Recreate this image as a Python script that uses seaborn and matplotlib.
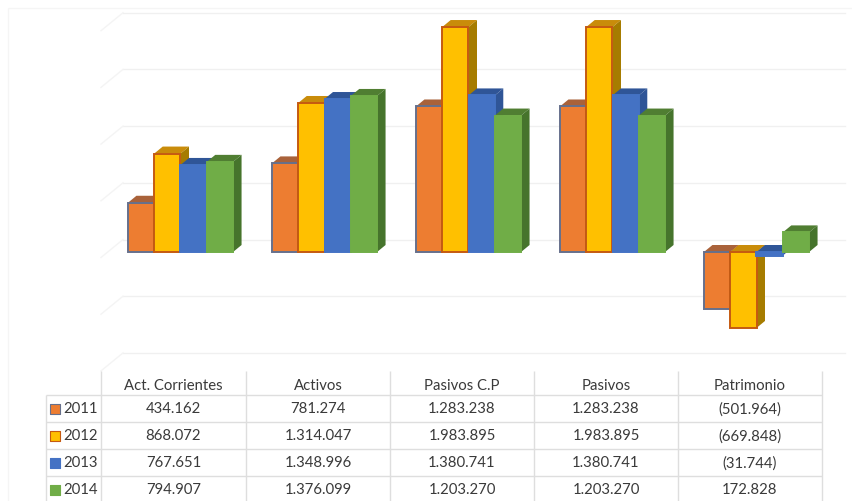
import matplotlib
matplotlib.use("Agg")
import matplotlib.pyplot as plt
from matplotlib.patches import Polygon
import pandas as pd
import seaborn as sns

categories = ["Act. Corrientes", "Activos", "Pasivos C.P", "Pasivos", "Patrimonio"]
years = ["2011", "2012", "2013", "2014"]
v2011 = [434162, 781274, 1283238, 1283238, -501964]
v2012 = [868072, 1314047, 1983895, 1983895, -669848]
v2013 = [767651, 1348996, 1380741, 1380741, -31744]
v2014 = [794907, 1376099, 1203270, 1203270, 172828]
labels2011 = ["434.162", "781.274", "1.283.238", "1.283.238", "(501.964)"]
labels2012 = ["868.072", "1.314.047", "1.983.895", "1.983.895", "(669.848)"]
labels2013 = ["767.651", "1.348.996", "1.380.741", "1.380.741", "(31.744)"]
labels2014 = ["794.907", "1.376.099", "1.203.270", "1.203.270", "172.828"]
grid_values = [-1000000, -500000, 0, 500000, 1000000, 1500000, 2000000]

front = ["#ED7D31", "#FFC000", "#4472C4", "#70AD47"]
top = ["#A9623A", "#C98C0A", "#2F5597", "#507E32"]
side = ["#B3581F", "#A67C00", "#2F5597", "#46742C"]
edges = ["#66708C", "#C55A11", "#4472C4", "#70AD47"]

W, H = 853, 502
plt.rcParams["font.family"] = ["Lato", "DejaVu Sans"]
fig = plt.figure(figsize=(W / 100, H / 100), dpi=100, facecolor="white")

# chart axes: px 101..853 wide, px 0..372 tall
ax = fig.add_axes([101 / W, 1 - 372 / H, 752 / W, 372 / H])
df = pd.DataFrame({
    "cat": categories * 4,
    "year": [y for y in years for _ in categories],
    "value": v2011 + v2012 + v2013 + v2014,
})
sns.barplot(data=df, x="cat", y="value", hue="year", palette=front, width=0.73,
            gap=0, saturation=1, legend=False, ax=ax, zorder=3)

px_x = 1 / 144          # category units per pixel
px_y = 1 / 113.4e-6     # value units per pixel
ax.set_xlim(-79.5 * px_x, 672.5 * px_x)
ax.set_ylim(-119 * px_y, 253 * px_y)
ax.axis("off")

# back wall and floor lines
x0 = ax.get_xlim()[0]
wall_x = x0 + 22 * px_x
wall_end = x0 + 744 * px_x
wall_dy = 12.5 * px_y
front_dy = -5.5 * px_y
for g in grid_values:
    ax.plot([wall_x, wall_end], [g + wall_dy, g + wall_dy], color="#F0F0F0",
            lw=1, zorder=1, clip_on=False)
    ax.plot([x0, wall_x], [g + front_dy, g + wall_dy], color="#F4F4F4",
            lw=1, zorder=1, clip_on=False)

# extrude each bar
dx, dy = 8.5 * px_x, 7 * px_y
for s, cont in enumerate(ax.containers):
    for c, bar in enumerate(cont):
        xl, w = bar.get_x(), bar.get_width()
        yt = max(bar.get_y(), bar.get_y() + bar.get_height())
        yb = min(bar.get_y(), bar.get_y() + bar.get_height())
        z = 3 + c * 10 + s * 2
        bar.set_zorder(z + 1)
        bar.set_edgecolor(edges[s])
        bar.set_linewidth(1.4)
        xr = xl + w
        ax.add_patch(Polygon([(xl, yt), (xl + dx, yt + dy), (xr + dx, yt + dy), (xr, yt)],
                             closed=True, fc=top[s], ec="none", zorder=z))
        ax.add_patch(Polygon([(xr, yt), (xr + dx, yt + dy), (xr + dx, yb + dy), (xr, yb)],
                             closed=True, fc=side[s], ec="none", zorder=z))

# data table, in pixel coordinates
tb = fig.add_axes([0, 0, 1, 1], facecolor="none")
tb.set_xlim(0, W)
tb.set_ylim(H, 0)
tb.axis("off")
col_edges = [101, 246, 390, 534, 678, 822]
row_edges = [396, 423, 450, 477]
line = "#DEDEDE"
tb.vlines(col_edges, 372, H, color=line, lw=1)
tb.vlines([46], 396, H, color=line, lw=1)
tb.hlines(row_edges, 46, 822, color=line, lw=1)
# faint outer chart frame
tb.hlines([8.5], 8.5, W, color="#F5F5F5", lw=1)
tb.vlines([8.5], 8.5, H, color="#F5F5F5", lw=1)
txt = "#3A3A3A"
fs = 10.7
for i, name in enumerate(categories):
    cx = (col_edges[i] + col_edges[i + 1]) / 2
    tb.text(cx, 386.5, name, ha="center", va="center", fontsize=fs, color=txt)
rows = [labels2011, labels2012, labels2013, labels2014]
row_cy = [409.5, 436.5, 463.5, 490.5]
for r, vals in enumerate(rows):
    tb.scatter([55], [row_cy[r]], marker="s", s=58, color=front[r],
               edgecolors=edges[r], linewidths=0.8)
    tb.text(63.5, row_cy[r], years[r], ha="left", va="center", fontsize=fs, color=txt)
    for i, val in enumerate(vals):
        cx = (col_edges[i] + col_edges[i + 1]) / 2
        tb.text(cx, row_cy[r], val, ha="center", va="center", fontsize=fs, color=txt)

fig.savefig("out.png", dpi=100, facecolor="white")
